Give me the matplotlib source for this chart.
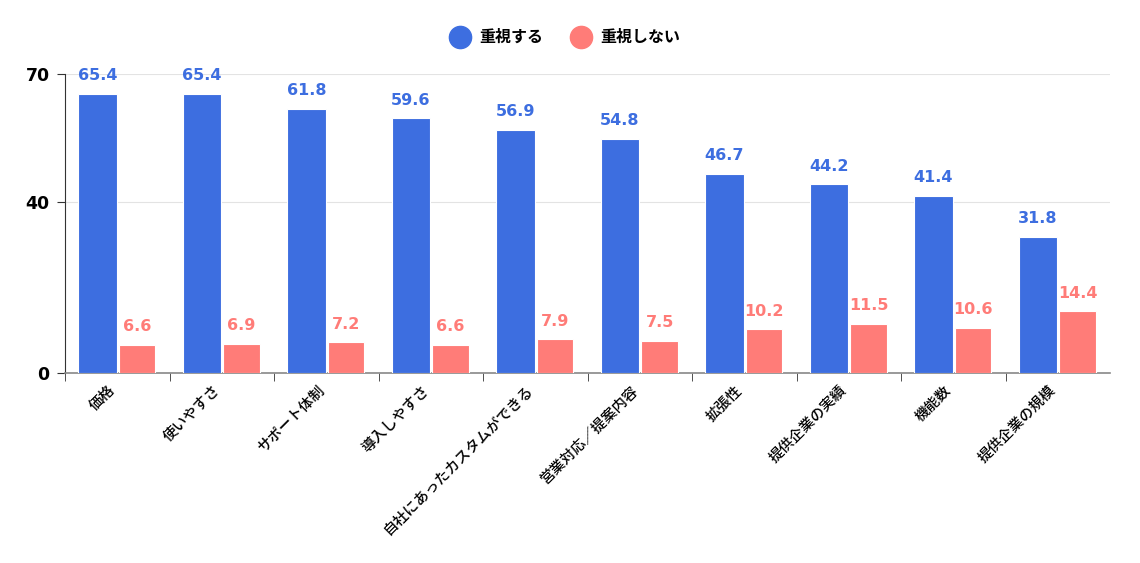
import numpy as np
import matplotlib
matplotlib.use("Agg")
import matplotlib.pyplot as plt
import matplotlib.transforms as mtransforms
from matplotlib.lines import Line2D

plt.rcParams['font.family'] = ['Noto Sans CJK JP', 'DejaVu Sans']

categories = ["価格", "使いやすさ", "サポート体制", "導入しやすさ", "自社にあったカスタムができる",
              "営業対応／提案内容", "拡張性", "提供企業の実績", "機能数", "提供企業の規模"]
important = [65.4, 65.4, 61.8, 59.6, 56.9, 54.8, 46.7, 44.2, 41.4, 31.8]
not_important = [6.6, 6.9, 7.2, 6.6, 7.9, 7.5, 10.2, 11.5, 10.6, 14.4]
series_names = ["重視する", "重視しない"]
yticks = [0, 40, 70]

blue = "#3D6EE0"
red = "#FF7C78"

fig = plt.figure(figsize=(11.4, 5.63), dpi=100)
ax = fig.add_axes([65 / 1140, 190 / 563, 1045 / 1140, 299 / 563])

x = np.arange(len(categories))
b1 = ax.bar(x - 0.19, important, width=0.37, color=blue, edgecolor="white", linewidth=0.8, zorder=3)
b2 = ax.bar(x + 0.19, not_important, width=0.35, color=red, edgecolor="white", linewidth=0.8, zorder=3)

for rect, v in zip(b1, important):
    ax.text(rect.get_x() + rect.get_width() / 2, v + 2.5, f"{v:.1f}", ha="center", va="bottom",
            color=blue, fontsize=11.5, fontweight="bold", family="DejaVu Sans")
for rect, v in zip(b2, not_important):
    ax.text(rect.get_x() + rect.get_width() / 2, v + 2.5, f"{v:.1f}", ha="center", va="bottom",
            color=red, fontsize=11.5, fontweight="bold", family="DejaVu Sans")

ax.set_xlim(-0.5, len(categories) - 0.5)
ax.set_ylim(0, 70)
ax.set_yticks(yticks)
ax.set_yticklabels([str(t) for t in yticks], fontsize=12.5, fontweight="bold", family="DejaVu Sans")
ax.yaxis.grid(True, color="#e3e3e3", linewidth=0.8, zorder=0)

# category labels centred, ticks on the boundaries
ax.set_xticks(x)
ax.set_xticklabels(categories, rotation=45, ha="right", rotation_mode="anchor", fontsize=10.5,
                   fontweight="medium")
ax.tick_params(axis="x", length=0, pad=8)
shift = mtransforms.ScaledTranslation(-9 / 100, 1 / 100, fig.dpi_scale_trans)
for lab in ax.get_xticklabels():
    lab.set_transform(lab.get_transform() + shift)
ax.set_xticks(np.arange(len(categories)) - 0.5, minor=True)
ax.tick_params(axis="x", which="minor", length=6, color="#333333")
ax.tick_params(axis="y", length=6, color="#333333", pad=5)

for s in ["top", "right"]:
    ax.spines[s].set_visible(False)
ax.spines["left"].set_color("#333333")
ax.spines["bottom"].set_color("#888888")
ax.spines["bottom"].set_linewidth(1.2)

handles = [Line2D([], [], marker="o", linestyle="", markersize=16, color=c) for c in (blue, red)]
leg = fig.legend(handles, series_names, loc="center", bbox_to_anchor=(0.493, 0.934), ncol=2,
                 frameon=False, handletextpad=0.2, columnspacing=1.4,
                 prop={"family": ["Noto Sans CJK JP", "DejaVu Sans"], "weight": "bold", "size": 11.5})

fig.savefig("out.png", dpi=100, facecolor="white")
